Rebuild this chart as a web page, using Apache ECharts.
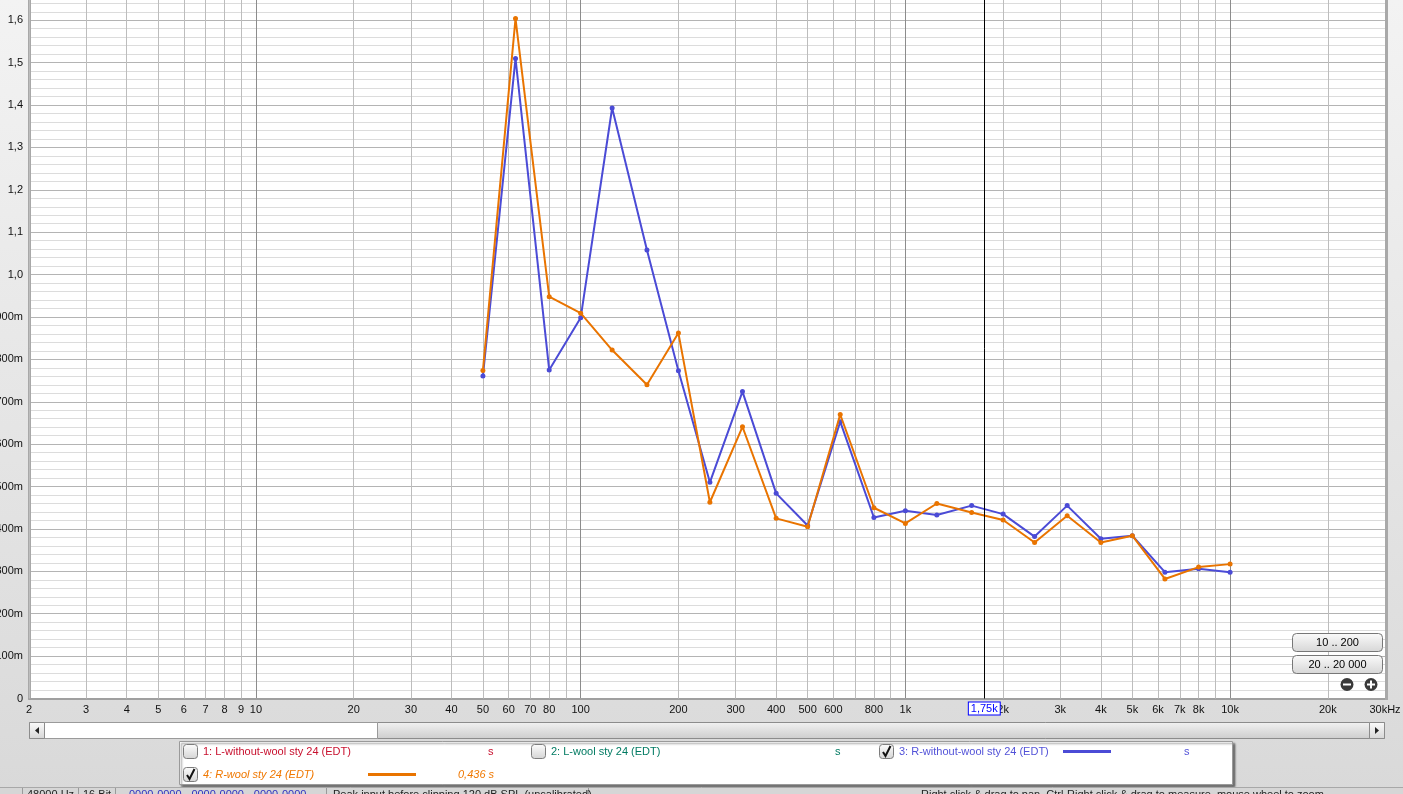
<!DOCTYPE html>
<html><head><meta charset="utf-8">
<script src="https://cdn.jsdelivr.net/npm/echarts@6/dist/echarts.min.js"></script>
<style>
html,body{margin:0;padding:0;width:1403px;height:794px;overflow:hidden;background:linear-gradient(#f3f3f3,#d9d9d9);}
#chart{width:1403px;height:794px;}
</style></head><body><div id="chart"></div>
<script>
// ---- data ----
const freqs = [50,63,80,100,125,160,200,250,315,400,500,630,800,1000,1250,1600,2000,2500,3150,4000,5000,6300,8000,10000];
const rWithoutWool = [0.761,1.510,0.775,0.898,1.393,1.058,0.773,0.510,0.724,0.484,0.408,0.653,0.427,0.443,0.433,0.455,0.435,0.382,0.455,0.377,0.384,0.298,0.306,0.298];
const rWool = [0.774,1.604,0.948,0.909,0.822,0.740,0.862,0.463,0.641,0.425,0.405,0.670,0.450,0.413,0.460,0.439,0.421,0.368,0.431,0.368,0.384,0.282,0.310,0.317];
const xTickValues = [2,3,4,5,6,7,8,9,10,20,30,40,50,60,70,80,100,200,300,400,500,600,800,1000,2000,3000,4000,5000,6000,7000,8000,10000,20000,30000];
const xTickLabels = ['2','3','4','5','6','7','8','9','10','20','30','40','50','60','70','80','100','200','300','400','500','600','800','1k','2k','3k','4k','5k','6k','7k','8k','10k','20k','30kHz'];
const yTickLabels = ['0','100m','200m','300m','400m','500m','600m','700m','800m','900m','1,0','1,1','1,2','1,3','1,4','1,5','1,6'];
const cursorFreq = 1750;
const cursorLabel = '1,75k';
const legendNames = ['1: L-without-wool sty 24 (EDT)','2: L-wool sty 24 (EDT)','3: R-without-wool sty 24 (EDT)','4: R-wool sty 24 (EDT)'];
const legendValues = ['s','s','s','0,436 s'];

// ---- styles ----
const FONT = 'Liberation Sans, Arial, sans-serif';
const BLUE = '#4b4bd6', ORANGE = '#e97400';

const xMin = 2, xMax = 30000;
// vertical gridline frequencies (2..9 x each decade) + label items
const gridItems = [];
[1,10,100,1000,10000].forEach(d => {
  for (let m = 1; m <= 9; m++) {
    const f = m * d;
    if (f < xMin || f > xMax) continue;
    const li = xTickValues.indexOf(f);
    const item = { xAxis: f, name: li >= 0 ? xTickLabels[li] : '' , label: { show: li >= 0 } };
    if (m === 1) item.lineStyle = { color: 'rgba(0,0,0,0)', width: 0 };
    gridItems.push(item);
  }
});

const chart = echarts.init(document.getElementById('chart'), null, { renderer: 'canvas' });

function cb(x, y, checked) {
  const els = [{
    type: 'rect', shape: { x: x, y: y, width: 14, height: 14, r: 3 },
    style: { fill: new echarts.graphic.LinearGradient(0,0,0,1,[{offset:0,color:'#fdfdfd'},{offset:1,color:'#d4d4d4'}]), stroke: '#7d7d7d', lineWidth: 1 }
  }];
  if (checked) els.push({ type: 'polyline', shape: { points: [[x+3.5,y+7.5],[x+6,y+11.5],[x+11,y+1.5]] }, style: { stroke: '#111', lineWidth: 2, fill: null } });
  return els;
}
function txt(x, y, t, color, extra) {
  return Object.assign({ type: 'text', x: x, y: y, style: Object.assign({ text: t, fill: color, font: '11px ' + FONT, verticalAlign: 'middle', textAlign: 'left' }, extra || {}) });
}
const btnGrad = () => new echarts.graphic.LinearGradient(0,0,0,1,[{offset:0,color:'#fbfbfb'},{offset:1,color:'#d6d6d6'}]);

const graphics = [
  // right border of plot
  { type: 'rect', shape: { x: 1385, y: 0, width: 3, height: 700 }, style: { fill: '#a9a9a9' }, z: 50 },
  // scrollbar
  { type: 'rect', shape: { x: 29.5, y: 722.5, width: 1355, height: 16 }, style: { fill: new echarts.graphic.LinearGradient(0,0,0,1,[{offset:0,color:'#f2f2f2'},{offset:1,color:'#cdcdcd'}]), stroke: '#8c8c8c' } },
  { type: 'rect', shape: { x: 44.5, y: 722.5, width: 333, height: 16 }, style: { fill: '#ffffff', stroke: '#9a9a9a' } },
  { type: 'rect', shape: { x: 29.5, y: 722.5, width: 15, height: 16 }, style: { fill: btnGrad(), stroke: '#8c8c8c' } },
  { type: 'polygon', shape: { points: [[35,730.5],[39,727],[39,734]] }, style: { fill: '#222' } },
  { type: 'rect', shape: { x: 1369.5, y: 722.5, width: 15, height: 16 }, style: { fill: btnGrad(), stroke: '#8c8c8c' } },
  { type: 'polygon', shape: { points: [[1379,730.5],[1375,727],[1375,734]] }, style: { fill: '#222' } },
  // zoom buttons
  { type: 'rect', shape: { x: 1292.5, y: 633.5, width: 90, height: 18, r: 4 }, style: { fill: btnGrad(), stroke: '#777' }, z: 60 },
  { type: 'text', x: 1337.5, y: 642.5, style: { text: '10 .. 200', font: '11px ' + FONT, fill: '#000', textAlign: 'center', verticalAlign: 'middle' }, z: 61 },
  { type: 'rect', shape: { x: 1292.5, y: 655.5, width: 90, height: 18, r: 4 }, style: { fill: btnGrad(), stroke: '#777' }, z: 60 },
  { type: 'text', x: 1337.5, y: 664.5, style: { text: '20 .. 20 000', font: '11px ' + FONT, fill: '#000', textAlign: 'center', verticalAlign: 'middle' }, z: 61 },
  { type: 'circle', shape: { cx: 1347, cy: 684.5, r: 6.5 }, style: { fill: '#3a3a3a' }, z: 60 },
  { type: 'rect', shape: { x: 1343, y: 683.5, width: 8, height: 2 }, style: { fill: '#fff' }, z: 61 },
  { type: 'circle', shape: { cx: 1371, cy: 684.5, r: 6.5 }, style: { fill: '#3a3a3a' }, z: 60 },
  { type: 'rect', shape: { x: 1367, y: 683.5, width: 8, height: 2 }, style: { fill: '#fff' }, z: 61 },
  { type: 'rect', shape: { x: 1370, y: 680.5, width: 2, height: 8 }, style: { fill: '#fff' }, z: 61 },
  // legend panel
  { type: 'rect', shape: { x: 179.5, y: 741.5, width: 1053, height: 43 }, style: { fill: '#ffffff', stroke: '#9a9a9a', shadowColor: 'rgba(0,0,0,0.45)', shadowOffsetX: 2, shadowOffsetY: 2, shadowBlur: 2 } },
  ...cb(183.5, 744.5, false),
  txt(203, 751.5, legendNames[0], '#c8102e'),
  txt(488, 751.5, legendValues[0], '#c8102e'),
  ...cb(531.5, 744.5, false),
  txt(551, 751.5, legendNames[1], '#007a62'),
  txt(835, 751.5, legendValues[1], '#007a62'),
  ...cb(879.5, 744.5, true),
  txt(899, 751.5, legendNames[2], '#5252d8'),
  { type: 'line', shape: { x1: 1063, y1: 751.5, x2: 1111, y2: 751.5 }, style: { stroke: BLUE, lineWidth: 3 } },
  txt(1184, 751.5, legendValues[2], '#5252d8'),
  ...cb(183.5, 767.5, true),
  txt(203, 774.5, legendNames[3], '#f07800', { font: 'italic 11px ' + FONT }),
  { type: 'line', shape: { x1: 368, y1: 774.5, x2: 416, y2: 774.5 }, style: { stroke: ORANGE, lineWidth: 3 } },
  txt(458, 774.5, legendValues[3], '#f07800', { font: 'italic 11px ' + FONT }),
  // status bar
  { type: 'rect', shape: { x: 0, y: 787, width: 1403, height: 7 }, style: { fill: '#d6d6d6' } },
  { type: 'line', shape: { x1: 0, y1: 787.5, x2: 1403, y2: 787.5 }, style: { stroke: '#a8a8a8', lineWidth: 1 } },
  ...[22, 78, 115, 326, 588].map(x => ({ type: 'line', shape: { x1: x + 0.5, y1: 788, x2: x + 0.5, y2: 794 }, style: { stroke: '#9a9a9a', lineWidth: 1 } })),
  { type: 'text', x: 27, y: 789, style: { text: '48000 Hz', font: '11px ' + FONT, fill: '#222', verticalAlign: 'top' } },
  { type: 'text', x: 83, y: 789, style: { text: '16 Bit', font: '11px ' + FONT, fill: '#222', verticalAlign: 'top' } },
  { type: 'text', x: 129, y: 789, style: { text: '0000-0000 - 0000-0000 - 0000-0000', font: '11px ' + FONT, fill: '#3030c0', verticalAlign: 'top' } },
  { type: 'text', x: 333, y: 789, style: { text: 'Peak input before clipping 120 dB SPL (uncalibrated)', font: '11px ' + FONT, fill: '#222', verticalAlign: 'top' } },
  { type: 'text', x: 921, y: 789, style: { text: 'Right click & drag to pan, Ctrl-Right click & drag to measure, mouse wheel to zoom,', font: '11px ' + FONT, fill: '#222', verticalAlign: 'top' } }
];

const option = {
  animation: false,
  backgroundColor: 'transparent',
  textStyle: { fontFamily: FONT },
  grid: { left: 29, right: 18, top: -2, bottom: 95.5, show: true, backgroundColor: '#ffffff', borderWidth: 0, containLabel: false, outerBoundsMode: 'none' },
  xAxis: {
    type: 'log', logBase: 10, min: xMin, max: xMax,
    axisLine: { show: true, lineStyle: { color: '#a0a0a0', width: 2 } },
    axisTick: { show: false },
    axisLabel: { show: false },
    splitLine: { show: true, lineStyle: { color: '#8c8c8c', width: 1 } }
  },
  yAxis: {
    type: 'value', min: 0, max: 1.6525, interval: 0.1,
    axisLine: { show: true, lineStyle: { color: '#a8a8a8', width: 3 } },
    axisTick: { show: false },
    minorTick: { show: false, splitNumber: 5 },
    minorSplitLine: { show: true, lineStyle: { color: '#dcdcdc', width: 1 } },
    splitLine: { show: true, lineStyle: { color: '#b4b4b4', width: 1 } },
    axisLabel: {
      margin: 6, color: '#111', fontSize: 11, fontFamily: FONT,
      showMaxLabel: false,
      formatter: v => { const i = Math.round(v * 10); return Math.abs(v * 10 - i) < 1e-6 && yTickLabels[i] !== undefined ? yTickLabels[i] : ''; }
    }
  },
  series: [
    {
      name: 'xgrid', type: 'line', data: [], silent: true,
      markLine: {
        silent: true, z: 1, symbol: ['none', 'none'], animation: false,
        emphasis: { disabled: true },
        lineStyle: { color: '#bdbdbd', width: 1, type: 'solid' },
        label: { show: true, position: 'start', formatter: '{b}', color: '#111', fontSize: 11, fontFamily: FONT, distance: 5, lineHeight: 12 },
        data: gridItems
      }
    },
    {
      name: '3: R-without-wool sty 24 (EDT)', type: 'line', z: 3,
      data: freqs.map((f, i) => [f, rWithoutWool[i]]),
      symbol: 'circle', symbolSize: 5, showSymbol: true,
      lineStyle: { color: BLUE, width: 2 }, itemStyle: { color: BLUE },
      emphasis: { disabled: true }
    },
    {
      name: '4: R-wool sty 24 (EDT)', type: 'line', z: 4,
      data: freqs.map((f, i) => [f, rWool[i]]),
      symbol: 'circle', symbolSize: 5, showSymbol: true,
      lineStyle: { color: ORANGE, width: 2 }, itemStyle: { color: ORANGE },
      emphasis: { disabled: true }
    },
    {
      name: 'cursor', type: 'line', data: [], silent: true,
      markLine: {
        silent: true, z: 10, symbol: ['none', 'none'], animation: false,
        emphasis: { disabled: true },
        lineStyle: { color: '#000', width: 1, type: 'solid' },
        label: { show: true, position: 'start', formatter: '{b}', color: '#0000ff', fontSize: 11, fontFamily: FONT, distance: 4, lineHeight: 12,
                 backgroundColor: '#ffffff', borderColor: '#0000ff', borderWidth: 1, padding: [0, 2] },
        data: [{ xAxis: cursorFreq, name: cursorLabel }]
      }
    }
  ],
  graphic: graphics
};
chart.setOption(option);
</script></body></html>
